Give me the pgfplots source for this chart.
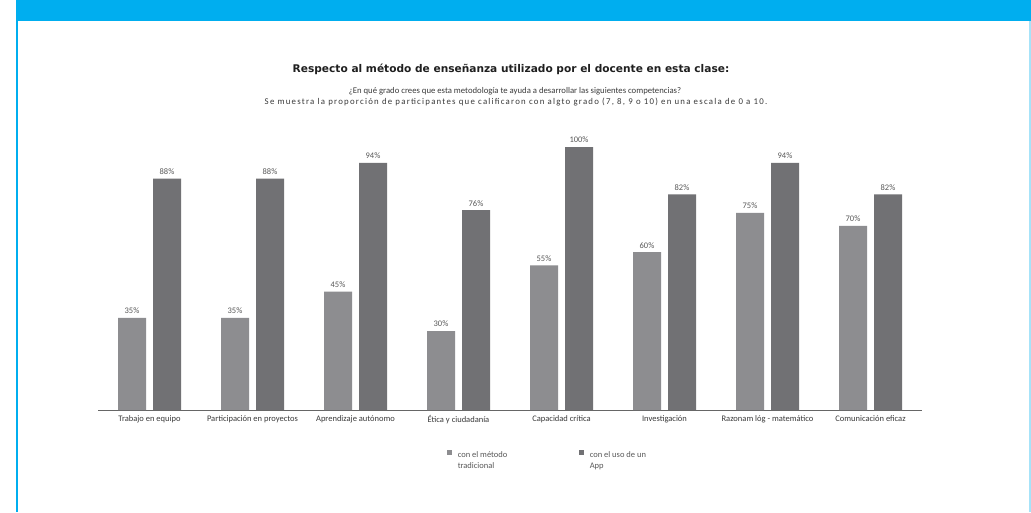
\documentclass[border=0pt]{standalone}
\usepackage{fontspec}
\setmainfont{Carlito}
\newfontfamily\titlefont{DejaVu Sans}
\newfontfamily\widefont[LetterSpace=14]{Carlito}
\usepackage{pgfplots}
\pgfplotsset{compat=1.18}
\definecolor{frameblue}{HTML}{00AEEF}
\definecolor{lightbar}{HTML}{8D8D90}
\definecolor{darkbar}{HTML}{717174}
\definecolor{txt}{HTML}{3A3A3A}
\begin{document}
\begin{tikzpicture}[x=1pt,y=1pt]
\useasboundingbox (0,0) rectangle (1031,512);
\fill[white] (0,0) rectangle (1031,512);
\fill[frameblue] (16,491) rectangle (1031,512);
\fill[frameblue] (16,0) rectangle (18,512);
\fill[frameblue!35] (1029.3,0) rectangle (1030.5,491);
\node[font=\titlefont\bfseries\fontsize{10.6}{12}\selectfont, text=black!88, anchor=base, inner sep=0pt] at (511,439) {Respecto al método de enseñanza utilizado por el docente en esta clase:};
\node[font=\fontsize{8.7}{10}\selectfont, text=txt, anchor=base, inner sep=0pt] at (515,418) {¿En qué grado crees que esta metodología te ayuda a desarrollar las siguientes competencias?};
\node[font=\widefont\fontsize{8.8}{10}\selectfont, text=txt, anchor=base, inner sep=0pt] at (516,407) {Se muestra la proporción de participantes que calificaron con algto grado (7, 8, 9 o 10) en una escala de 0 a 10.};
\begin{axis}[
  at={(98pt,102pt)}, anchor=south west,
  scale only axis, width=824pt, height=263pt,
  xmin=-0.5, xmax=7.5, ymin=0, ymax=100,
  ybar=7pt, bar width=28pt,
  axis x line=bottom, axis y line=none,
  x axis line style={-, draw=black!60, line width=0.9pt},
  xtick={0,...,7}, major tick length=0pt,
  xticklabels={Trabajo en equipo, Participación en proyectos, Aprendizaje autónomo, Ética y ciudadanía, Capacidad crítica, Investigación, Razonam lóg - matemático, Comunicación eficaz},
  xticklabel style={font=\fontsize{8.5}{10}\selectfont, text=txt, yshift=-2pt},
  clip=false,
  /pgf/number format/assume math mode=true,
  nodes near coords={\pgfmathprintnumber{\pgfplotspointmeta}\%},
  every node near coord/.append style={font=\fontsize{8.5}{10}\selectfont, text=black!65, yshift=0.5pt},
  legend columns=2,
  legend style={draw=none, fill=none, at={(0.423,-0.150)}, anchor=north west, font=\fontsize{8.5}{11}\selectfont, text=black!65, inner sep=0pt, row sep=0pt,
    /tikz/every odd column/.append style={column sep=6pt},
    /tikz/every even column/.append style={column sep=0pt},
    nodes={inner sep=0pt}},
  legend image code/.code={\fill[#1,draw=none] (0pt,0.5pt) rectangle (5pt,5.5pt);},
  legend cell align=left,
]
\addplot[fill=lightbar, draw=none] coordinates {(0,35) (1,35) (2,45) (3,30) (4,55) (5,60) (6,75) (7,70)};
\addplot[fill=darkbar, draw=none] coordinates {(0,88) (1,88) (2,94) (3,76) (4,100) (5,82) (6,94) (7,82)};
\legend{\parbox[t]{121pt}{\raggedright con el método\\tradicional}, \parbox[t]{80pt}{\raggedright con el uso de un\\App}}
\end{axis}
\end{tikzpicture}
\end{document}
